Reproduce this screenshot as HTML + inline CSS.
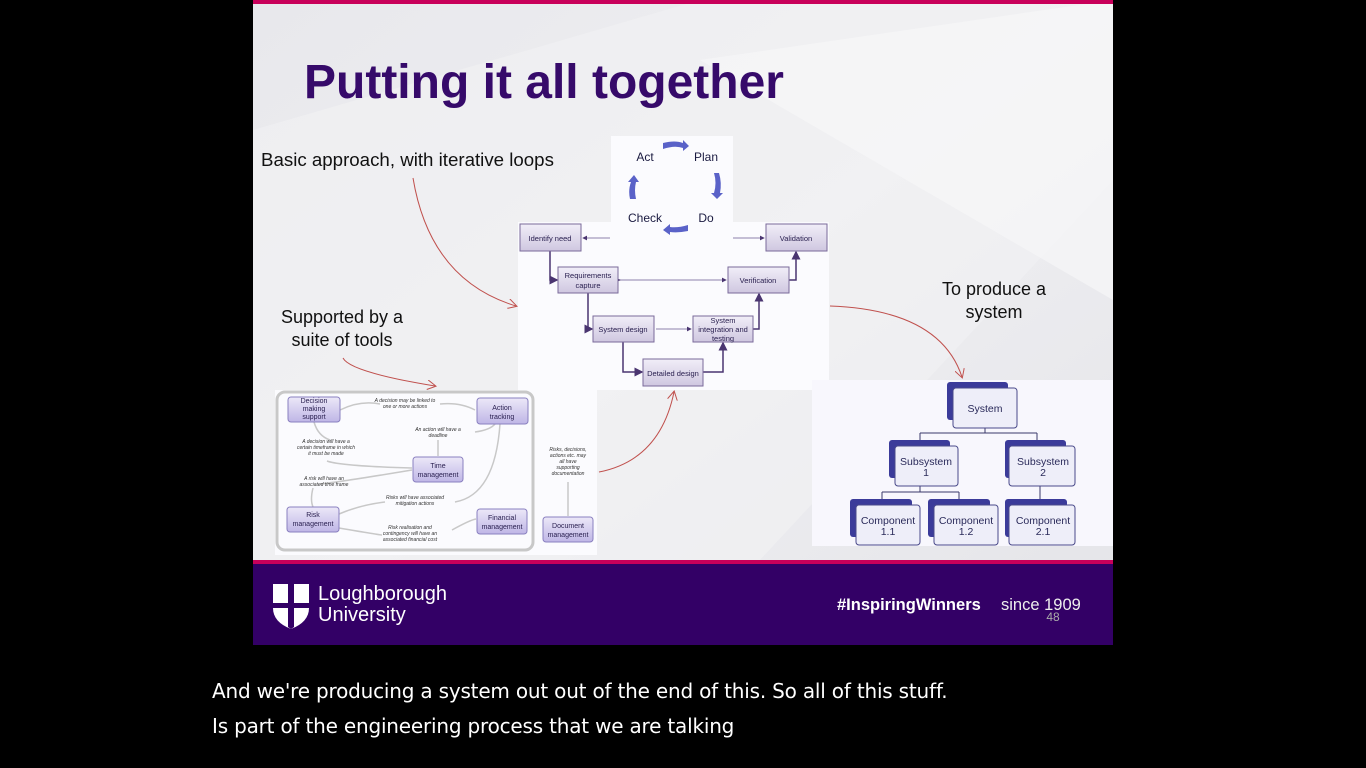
<!DOCTYPE html>
<html><head><meta charset="utf-8"><style>
html,body{margin:0;padding:0;background:#000;width:1366px;height:768px;overflow:hidden}
svg{position:absolute;left:0;top:0}
text{font-family:"Liberation Sans",sans-serif}
.cap{position:absolute;left:212px;color:#fff;font-family:"DejaVu Sans","Liberation Sans",sans-serif;font-size:20px;letter-spacing:-0.2px}
</style></head><body>
<svg width="1366" height="768" viewBox="0 0 1366 768">
<defs>
<linearGradient id="bg" x1="0" y1="0" x2="1" y2="1">
<stop offset="0" stop-color="#e8e8ec"/><stop offset="0.5" stop-color="#efeff2"/><stop offset="1" stop-color="#e4e4e8"/></linearGradient>
<linearGradient id="bx" x1="0" y1="0" x2="0" y2="1">
<stop offset="0" stop-color="#f1eef8"/><stop offset="1" stop-color="#cfc7e0"/></linearGradient>
<linearGradient id="bx2" x1="0" y1="0" x2="0" y2="1">
<stop offset="0" stop-color="#ece8f8"/><stop offset="1" stop-color="#bfb6e6"/></linearGradient>
<marker id="ar" markerWidth="6" markerHeight="6" refX="5" refY="3" orient="auto"><path d="M0,0 L6,3 L0,6 z" fill="#4a3570"/></marker>
<marker id="rr" markerWidth="10" markerHeight="10" refX="8" refY="5" orient="auto"><path d="M0,0 L9,5 L0,10" fill="none" stroke="#c0504d" stroke-width="1"/></marker>
</defs>
<rect x="253" y="0" width="860" height="645" fill="url(#bg)"/>
<polygon points="253,130 700,0 1113,0 1113,180 760,560 253,560" fill="#f2f2f4" opacity="0.6"/>
<polygon points="700,60 1113,0 1113,300" fill="#f7f7f8" opacity="0.7"/>
<rect x="253" y="0" width="860" height="4" fill="#c8005a"/>
<text x="304" y="98" font-size="48" font-weight="bold" fill="#360a6a">Putting it all together</text>
<text x="261" y="166" font-size="18.7" fill="#111">Basic approach, with iterative loops</text>
<text x="342" y="323" font-size="18" fill="#111" text-anchor="middle">Supported by a</text>
<text x="342" y="346" font-size="18" fill="#111" text-anchor="middle">suite of tools</text>
<text x="994" y="295" font-size="18" fill="#111" text-anchor="middle">To produce a</text>
<text x="994" y="318" font-size="18" fill="#111" text-anchor="middle">system</text>

<rect x="611" y="136" width="122" height="90" fill="#fbfbfe"/>
<rect x="518" y="222" width="311" height="168" fill="#fbfbfe"/>
<rect x="275" y="390" width="322" height="165" fill="#fbfbfe"/>
<rect x="812" y="380" width="301" height="166" fill="#f8f7fd"/>

<g font-size="12" fill="#1a1a40" text-anchor="middle">
<text x="645" y="161">Act</text><text x="706" y="161">Plan</text>
<text x="645" y="222">Check</text><text x="706" y="222">Do</text></g>
<g fill="#5a62c8">
<path d="M663,143 Q675,140 683,143 L683,140 L689,146 L683,151 L683,148 Q675,145 663,149z"/>
<path d="M714,173 Q717,183 714,193 L711,193 L717,199 L723,193 L720,193 Q722,183 719,173z"/>
<path d="M688,225 Q678,228 670,227 L670,224 L663,230 L670,235 L670,232 Q678,233 688,231z"/>
<path d="M630,199 Q628,190 631,182 L628,182 L634,175 L639,182 L636,182 Q634,190 636,199z"/>
</g>

<g stroke="#4a3570" stroke-width="1.5" fill="none">
<path d="M550,251 V280 H557" marker-end="url(#ar)"/>
<path d="M588,293 V329 H592" marker-end="url(#ar)"/>
<path d="M623,342 V372 H642" marker-end="url(#ar)"/>
<path d="M703,372 H723 V343" marker-end="url(#ar)"/>
<path d="M753,329 H759 V294" marker-end="url(#ar)"/>
<path d="M789,280 H796 V252" marker-end="url(#ar)"/>
</g>
<g stroke="#6a5a90" stroke-width="0.8" fill="none">
<path d="M610,238 H583" marker-end="url(#ar)"/>
<path d="M733,238 H764" marker-end="url(#ar)"/>
<path d="M620,280 H726" marker-start="url(#ar)" marker-end="url(#ar)"/>
<path d="M656,329 H691" marker-end="url(#ar)"/>
</g>
<g stroke="#7a6a9a" stroke-width="1" fill="url(#bx)">
<rect x="520" y="224" width="61" height="27"/>
<rect x="766" y="224" width="61" height="27"/>
<rect x="558" y="267" width="60" height="26"/>
<rect x="728" y="267" width="61" height="26"/>
<rect x="593" y="316" width="61" height="26"/>
<rect x="693" y="316" width="60" height="26"/>
<rect x="643" y="359" width="60" height="27"/>
</g>
<g font-size="7.5" fill="#2a2050" text-anchor="middle">
<text x="550" y="241">Identify need</text>
<text x="796" y="241">Validation</text>
<text x="588" y="278">Requirements</text><text x="588" y="288">capture</text>
<text x="758" y="283">Verification</text>
<text x="623" y="332">System design</text>
<text x="723" y="323">System</text><text x="723" y="332">integration and</text><text x="723" y="341">testing</text>
<text x="673" y="376">Detailed design</text>
</g>

<g stroke="#c0504d" stroke-width="1" fill="none">
<path d="M413,178 Q430,280 516,306" marker-end="url(#rr)"/>
<path d="M343,358 Q350,372 435,386" marker-end="url(#rr)"/>
<path d="M599,472 Q660,460 674,392" marker-end="url(#rr)"/>
<path d="M830,306 Q940,310 962,377" marker-end="url(#rr)"/>
</g>

<rect x="277" y="392" width="256" height="158" rx="8" fill="none" stroke="#c8c8c8" stroke-width="3"/>
<g stroke="#c8c8c8" stroke-width="1.5" fill="none">
<path d="M340,410 Q360,400 380,404"/><path d="M440,404 Q460,402 475,410"/>
<path d="M314,422 Q318,436 330,440"/><path d="M327,461 Q340,466 412,468"/>
<path d="M438,440 V456"/><path d="M475,432 Q490,430 495,424"/>
<path d="M320,484 Q340,482 412,470"/><path d="M313,488 Q310,500 313,507"/>
<path d="M339,514 Q360,505 385,502"/><path d="M455,502 Q495,495 500,424"/>
<path d="M339,528 Q380,535 382,535"/><path d="M452,530 Q470,520 476,519"/>
<path d="M568,482 V516"/>
</g>
<g stroke="#8a80c0" stroke-width="1" fill="url(#bx2)">
<rect x="288" y="397" width="52" height="25" rx="3"/>
<rect x="477" y="398" width="51" height="26" rx="3"/>
<rect x="413" y="457" width="50" height="25" rx="3"/>
<rect x="287" y="507" width="52" height="25" rx="3"/>
<rect x="477" y="509" width="50" height="25" rx="3"/>
<rect x="543" y="517" width="50" height="25" rx="3"/>
</g>
<g font-size="7" fill="#2a2050" text-anchor="middle">
<text x="314" y="403">Decision</text><text x="314" y="411">making</text><text x="314" y="419">support</text>
<text x="502" y="410">Action</text><text x="502" y="419">tracking</text>
<text x="438" y="468">Time</text><text x="438" y="477">management</text>
<text x="313" y="517">Risk</text><text x="313" y="526">management</text>
<text x="502" y="520">Financial</text><text x="502" y="529">management</text>
<text x="568" y="528">Document</text><text x="568" y="537">management</text>
</g>
<g font-size="5" font-style="italic" fill="#333" text-anchor="middle">
<text x="405" y="402">A decision may be linked to</text><text x="405" y="408">one or more actions</text>
<text x="438" y="431">An action will have a</text><text x="438" y="437">deadline</text>
<text x="326" y="443">A decision will have a</text><text x="326" y="449">certain timeframe in which</text><text x="326" y="455">it must be made</text>
<text x="324" y="480">A risk will have an</text><text x="324" y="486">associated time frame</text>
<text x="415" y="499">Risks will have associated</text><text x="415" y="505">mitigation actions</text>
<text x="410" y="529">Risk realisation and</text><text x="410" y="535">contingency will have an</text><text x="410" y="541">associated financial cost</text>
<text x="568" y="451">Risks, decisions,</text><text x="568" y="457">actions etc. may</text><text x="568" y="463">all have</text><text x="568" y="469">supporting</text><text x="568" y="475">documentation</text>
</g>

<g stroke="#3a3a6a" stroke-width="1" fill="none">
<path d="M985,428 V433 M920,433 H1037 M920,433 V446 M1037,433 V446"/>
<path d="M920,486 V492 M882,492 H959 M882,492 V505 M959,492 V505"/>
<path d="M1040,486 V505"/>
</g>
<g>
<rect x="947" y="382" width="61" height="38" rx="3" fill="#3b3b9a"/>
<rect x="953" y="388" width="64" height="40" rx="3" fill="#eeeef9" stroke="#4a4a8a"/>
<rect x="889" y="440" width="61" height="38" rx="3" fill="#3b3b9a"/>
<rect x="895" y="446" width="63" height="40" rx="3" fill="#eeeef9" stroke="#4a4a8a"/>
<rect x="1005" y="440" width="61" height="38" rx="3" fill="#3b3b9a"/>
<rect x="1009" y="446" width="66" height="40" rx="3" fill="#eeeef9" stroke="#4a4a8a"/>
<rect x="850" y="499" width="62" height="38" rx="3" fill="#3b3b9a"/>
<rect x="856" y="505" width="64" height="40" rx="3" fill="#eeeef9" stroke="#4a4a8a"/>
<rect x="928" y="499" width="62" height="38" rx="3" fill="#3b3b9a"/>
<rect x="934" y="505" width="64" height="40" rx="3" fill="#eeeef9" stroke="#4a4a8a"/>
<rect x="1005" y="499" width="62" height="38" rx="3" fill="#3b3b9a"/>
<rect x="1009" y="505" width="66" height="40" rx="3" fill="#eeeef9" stroke="#4a4a8a"/>
</g>
<g font-size="10.5" fill="#2a2a5a" text-anchor="middle">
<text x="985" y="412">System</text>
<text x="926" y="465">Subsystem</text><text x="926" y="476">1</text>
<text x="1043" y="465">Subsystem</text><text x="1043" y="476">2</text>
<text x="888" y="524">Component</text><text x="888" y="535">1.1</text>
<text x="966" y="524">Component</text><text x="966" y="535">1.2</text>
<text x="1043" y="524">Component</text><text x="1043" y="535">2.1</text>
</g>

<rect x="253" y="560" width="860" height="4" fill="#c8005a"/>
<rect x="253" y="564" width="860" height="81" fill="#330066"/>
<path d="M273,584 H309 V608 Q309,622 291,629 Q273,622 273,608 Z" fill="#fff"/>
<path d="M288,584 H294 V627 L291,629 L288,627 Z M273,603 H309 V608 H273Z" fill="#330066"/>
<text x="318" y="600" font-size="20" fill="#fff" font-family="DejaVu Sans, sans-serif">Loughborough</text>
<text x="318" y="621" font-size="20" fill="#fff" font-family="DejaVu Sans, sans-serif">University</text>
<text x="837" y="610" font-size="16.5" fill="#fff" font-weight="bold" font-family="DejaVu Sans, sans-serif">#InspiringWinners</text>
<text x="1001" y="610" font-size="16.5" fill="#eee" font-family="DejaVu Sans, sans-serif">since 1909</text>
<text x="1053" y="621" font-size="12" fill="#aaa" text-anchor="middle">48</text>
</svg>
<div class="cap" style="top:679px">And we're producing a system out out of the end of this. So all of this stuff.</div>
<div class="cap" style="top:714px">Is part of the engineering process that we are talking</div>
</body></html>
